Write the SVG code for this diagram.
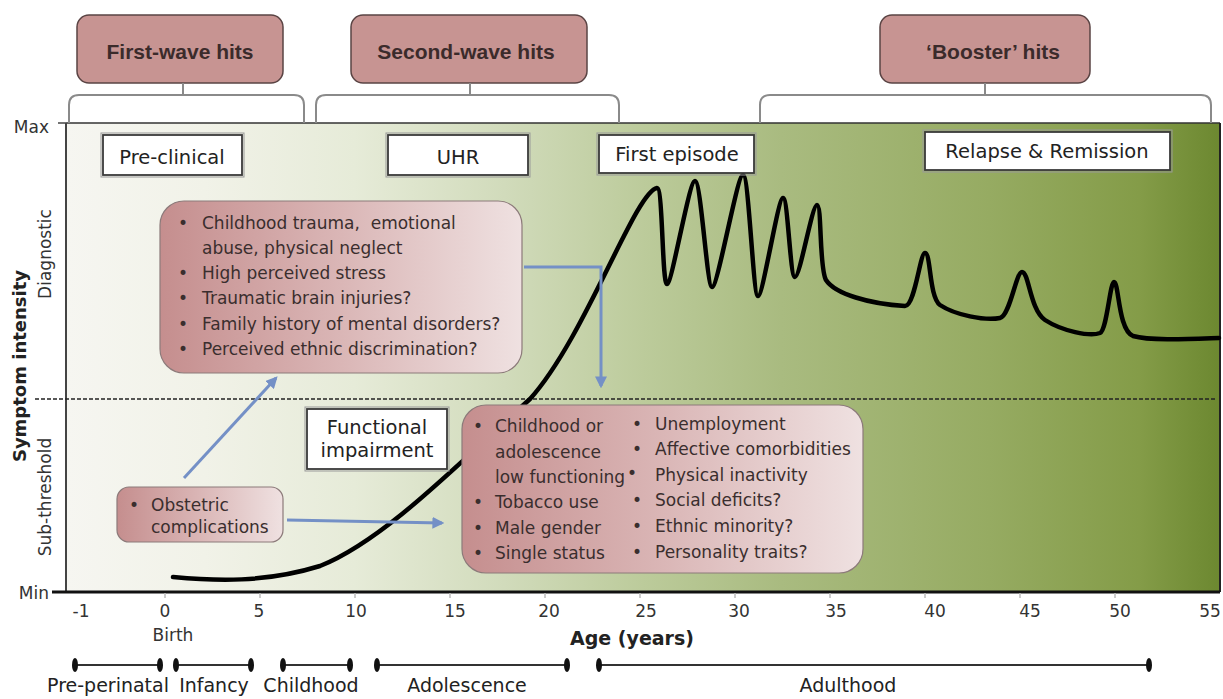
<svg xmlns="http://www.w3.org/2000/svg" width="1223" height="699" viewBox="0 0 1223 699">
<defs>
<linearGradient id="bg" x1="66" y1="0" x2="1220" y2="0" gradientUnits="userSpaceOnUse">
<stop offset="0" stop-color="#f6f6f1"/>
<stop offset="0.12" stop-color="#f1f2e8"/>
<stop offset="0.25" stop-color="#e6ebd8"/>
<stop offset="0.38" stop-color="#d1dbbb"/>
<stop offset="0.5" stop-color="#bccb9b"/>
<stop offset="0.62" stop-color="#a9bb80"/>
<stop offset="0.8" stop-color="#96ab62"/>
<stop offset="0.93" stop-color="#849c48"/>
<stop offset="1" stop-color="#6c8830"/>
</linearGradient>
<linearGradient id="pink" x1="0" y1="0" x2="1" y2="0">
<stop offset="0" stop-color="#c58e8e"/>
<stop offset="0.5" stop-color="#dab6b6"/>
<stop offset="1" stop-color="#efe1e1"/>
</linearGradient>
<marker id="ah" viewBox="0 0 10 10" refX="8" refY="5" markerWidth="4" markerHeight="4" orient="auto" markerUnits="strokeWidth">
<path d="M0,0 L10,5 L0,10 z" fill="#7490c6"/>
</marker>
<style>
.hit rect{fill:#c79492;stroke:#5a4444;stroke-width:1.5}
.hit text{font-family:"Liberation Sans",Arial,sans-serif;font-weight:bold;font-size:21px;fill:#3b2b2b;text-anchor:middle}
.brk{fill:none;stroke:#8a8a8a;stroke-width:2}
.lbl rect.o{fill:none;stroke:#999;stroke-width:1}
.lbl rect.i{fill:#fff;stroke:#3a3a3a;stroke-width:1.8}
.lbl text{font-family:"DejaVu Sans",Verdana,sans-serif;font-size:19.5px;fill:#222;text-anchor:middle}
.risk rect{fill:url(#pink);stroke:#8c7a7a;stroke-width:1.2}
.risk text{font-family:"DejaVu Sans",Verdana,sans-serif;font-size:17px;fill:#3a2e2e}
.ax{font-family:"DejaVu Sans",Verdana,sans-serif;font-size:17px;fill:#333}
.num{font-family:"DejaVu Sans",Verdana,sans-serif;font-size:17px;fill:#333;text-anchor:middle}
.stage{font-family:"DejaVu Sans",Verdana,sans-serif;font-size:19px;fill:#222;text-anchor:middle}
.conn{fill:none;stroke:#7490c6;stroke-width:3;marker-end:url(#ah)}
.tl{stroke:#333;stroke-width:2}
</style>
</defs>

<!-- plot background -->
<rect x="66" y="123" width="1154" height="469" fill="url(#bg)"/>
<line x1="66" y1="123" x2="1220" y2="123" stroke="#333" stroke-width="1.5"/>
<line x1="1220" y1="123" x2="1220" y2="592" stroke="#222" stroke-width="2"/>
<line x1="66" y1="123" x2="66" y2="592" stroke="#444" stroke-width="2"/>
<line x1="58" y1="123" x2="66" y2="123" stroke="#444" stroke-width="1.5"/>
<line x1="52" y1="592" x2="1220" y2="592" stroke="#111" stroke-width="3"/>
<g stroke="#bbb" stroke-width="1.5">
<line x1="165" y1="593" x2="165" y2="598"/><line x1="260" y1="593" x2="260" y2="598"/><line x1="355" y1="593" x2="355" y2="598"/><line x1="450" y1="593" x2="450" y2="598"/><line x1="545" y1="593" x2="545" y2="598"/><line x1="640" y1="593" x2="640" y2="598"/><line x1="735" y1="593" x2="735" y2="598"/><line x1="830" y1="593" x2="830" y2="598"/><line x1="925" y1="593" x2="925" y2="598"/><line x1="1020" y1="593" x2="1020" y2="598"/><line x1="1115" y1="593" x2="1115" y2="598"/>
</g>
<line x1="35" y1="399" x2="1215" y2="399" stroke="#222" stroke-width="1.5" stroke-dasharray="4,2"/>

<!-- symptom curve (drawn beneath the boxes) -->
<path id="curve" fill="none" stroke="#000" stroke-width="4.5" stroke-linecap="round" stroke-linejoin="round"
d="M173,577 C215,581 265,583 320,566 C385,540 460,462 530,399 C585,338 635,192 657,188 C663,188 662,284 667,284 C672,284 689,181 695,181 C701,181 707,287 712,287 C718,287 737,175 743,175 C749,175 753,296 758,296 C763,296 778,198 783,198 C788,198 790,277 795,277 C800,277 812,205 817,205 C822,205 819,268 826,280 C835,294 870,304 905,306 C915,306 920,253 925,253 C931,253 929,297 940,305 C955,315 985,321 1000,318 C1010,316 1016,272 1022,272 C1029,272 1030,310 1045,320 C1062,331 1090,337 1100,333 C1107,330 1110,282 1114,282 C1119,282 1118,330 1133,336 C1150,341 1190,339 1219,338"/>

<!-- axis labels -->
<text class="ax" x="49" y="133" text-anchor="end">Max</text>
<text class="ax" x="49" y="599" text-anchor="end">Min</text>
<text x="0" y="0" transform="translate(26,366) rotate(-90)" font-family="DejaVu Sans, Verdana, sans-serif" font-weight="bold" font-size="18" fill="#222" text-anchor="middle">Symptom intensity</text>
<text class="ax" x="0" y="0" transform="translate(51,254) rotate(-90)" text-anchor="middle" font-size="18">Diagnostic</text>
<text class="ax" x="0" y="0" transform="translate(51,497) rotate(-90)" text-anchor="middle" font-size="18">Sub-threshold</text>

<text class="num" x="81" y="617">-1</text>
<text class="num" x="165" y="617">0</text>
<text class="num" x="259" y="617">5</text>
<text class="num" x="356" y="617">10</text>
<text class="num" x="455" y="617">15</text>
<text class="num" x="549" y="617">20</text>
<text class="num" x="646" y="617">25</text>
<text class="num" x="739" y="617">30</text>
<text class="num" x="836" y="617">35</text>
<text class="num" x="935" y="617">40</text>
<text class="num" x="1030" y="617">45</text>
<text class="num" x="1120" y="617">50</text>
<text class="num" x="1210" y="617">55</text>
<text class="num" x="173" y="641">Birth</text>
<text x="632" y="645" font-family="DejaVu Sans, Verdana, sans-serif" font-weight="bold" font-size="19" fill="#222" text-anchor="middle">Age (years)</text>

<!-- life stages -->
<g id="stages">
<line class="tl" x1="75" y1="665" x2="160" y2="665"/>
<line class="tl" x1="176" y1="665" x2="251" y2="665"/>
<line class="tl" x1="283" y1="665" x2="350" y2="665"/>
<line class="tl" x1="377" y1="665" x2="567" y2="665"/>
<line class="tl" x1="599" y1="665" x2="1149" y2="665"/>
<g fill="#111">
<ellipse cx="75" cy="665" rx="3" ry="7"/><ellipse cx="160" cy="665" rx="3" ry="7"/>
<ellipse cx="176" cy="665" rx="3" ry="7"/><ellipse cx="251" cy="665" rx="3" ry="7"/>
<ellipse cx="283" cy="665" rx="3" ry="7"/><ellipse cx="350" cy="665" rx="3" ry="7"/>
<ellipse cx="377" cy="665" rx="3" ry="7"/><ellipse cx="567" cy="665" rx="3" ry="7"/>
<ellipse cx="599" cy="665" rx="3" ry="7"/><ellipse cx="1149" cy="665" rx="3" ry="7"/>
</g>
<text class="stage" x="108" y="692">Pre-perinatal</text>
<text class="stage" x="214" y="692">Infancy</text>
<text class="stage" x="311" y="692">Childhood</text>
<text class="stage" x="467" y="692">Adolescence</text>
<text class="stage" x="848" y="692">Adulthood</text>
</g>

<!-- hits -->
<g id="first-wave" class="hit">
<rect x="77" y="15" width="206" height="68" rx="12"/>
<text x="180" y="59">First-wave hits</text>
</g>
<g id="second-wave" class="hit">
<rect x="351" y="15" width="236" height="68" rx="12"/>
<text x="466" y="59">Second-wave hits</text>
</g>
<g id="booster" class="hit">
<rect x="880" y="15" width="210" height="68" rx="12"/>
<text x="993" y="59">‘Booster’ hits</text>
</g>

<!-- labels -->
<g id="pre-clinical" class="lbl">
<rect class="o" x="101" y="133" width="143" height="44"/>
<rect class="i" x="103" y="135" width="139" height="40"/>
<text x="172" y="164">Pre-clinical</text>
</g>
<g id="uhr" class="lbl">
<rect class="o" x="386" y="133" width="144" height="44"/>
<rect class="i" x="388" y="135" width="140" height="40"/>
<text x="458" y="164">UHR</text>
</g>
<g id="first-episode" class="lbl">
<rect class="o" x="597" y="133" width="159" height="42"/>
<rect class="i" x="599" y="135" width="155" height="38"/>
<text x="677" y="161">First episode</text>
</g>
<g id="relapse" class="lbl">
<rect class="o" x="923" y="130" width="249" height="42"/>
<rect class="i" x="925" y="132" width="245" height="38"/>
<text x="1047" y="158">Relapse &amp; Remission</text>
</g>
<g id="functional" class="lbl">
<rect class="o" x="305" y="407" width="144" height="64"/>
<rect class="i" x="307" y="409" width="140" height="60"/>
<text x="377" y="434" font-size="18">Functional</text>
<text x="377" y="457" font-size="18">impairment</text>
</g>

<!-- risk boxes -->
<g id="risk-early" class="risk">
<rect x="160" y="201" width="362" height="172" rx="24"/>
<text x="178" y="229">•</text><text x="202" y="229">Childhood trauma,&#160; emotional</text>
<text x="202" y="254">abuse, physical neglect</text>
<text x="178" y="279">•</text><text x="202" y="279">High perceived stress</text>
<text x="178" y="304">•</text><text x="202" y="304">Traumatic brain injuries?</text>
<text x="178" y="330">•</text><text x="202" y="330">Family history of mental disorders?</text>
<text x="178" y="355">•</text><text x="202" y="355">Perceived ethnic discrimination?</text>
</g>
<g id="risk-obstetric" class="risk">
<rect x="117" y="487" width="166" height="55" rx="12"/>
<text x="129" y="511">•</text><text x="151" y="511">Obstetric</text>
<text x="151" y="533">complications</text>
</g>
<g id="risk-later" class="risk">
<rect x="462" y="405" width="401" height="168" rx="24"/>
<text x="473" y="432">•</text><text x="495" y="432">Childhood or</text>
<text x="495" y="458">adolescence</text>
<text x="495" y="483">low functioning</text>
<text x="473" y="508">•</text><text x="495" y="508">Tobacco use</text>
<text x="473" y="534">•</text><text x="495" y="534">Male gender</text>
<text x="473" y="559">•</text><text x="495" y="559">Single status</text>
<text x="632" y="430">•</text><text x="655" y="430">Unemployment</text>
<text x="632" y="455">•</text><text x="655" y="455">Affective comorbidities</text>
<text x="627" y="479">•</text><text x="655" y="481">Physical inactivity</text>
<text x="632" y="506">•</text><text x="655" y="506">Social deficits?</text>
<text x="632" y="532">•</text><text x="655" y="532">Ethnic minority?</text>
<text x="632" y="558">•</text><text x="655" y="558">Personality traits?</text>
</g>

<!-- connectors -->
<g id="connectors">
<path class="brk" d="M69,123 V105 Q69,95 79,95 H294 Q304,95 304,105 V123 M183,83 V95"/>
<path class="brk" d="M316,123 V105 Q316,95 326,95 H609 Q619,95 619,105 V123 M470,83 V95"/>
<path class="brk" d="M760,123 V105 Q760,95 770,95 H1201 Q1211,95 1211,105 V123 M985,83 V95"/>
<path class="conn" d="M184,478 L276,378"/>
<path class="conn" d="M287,520 L442,523"/>
<path class="conn" d="M524,267 H601 V386"/>
</g>
</svg>
